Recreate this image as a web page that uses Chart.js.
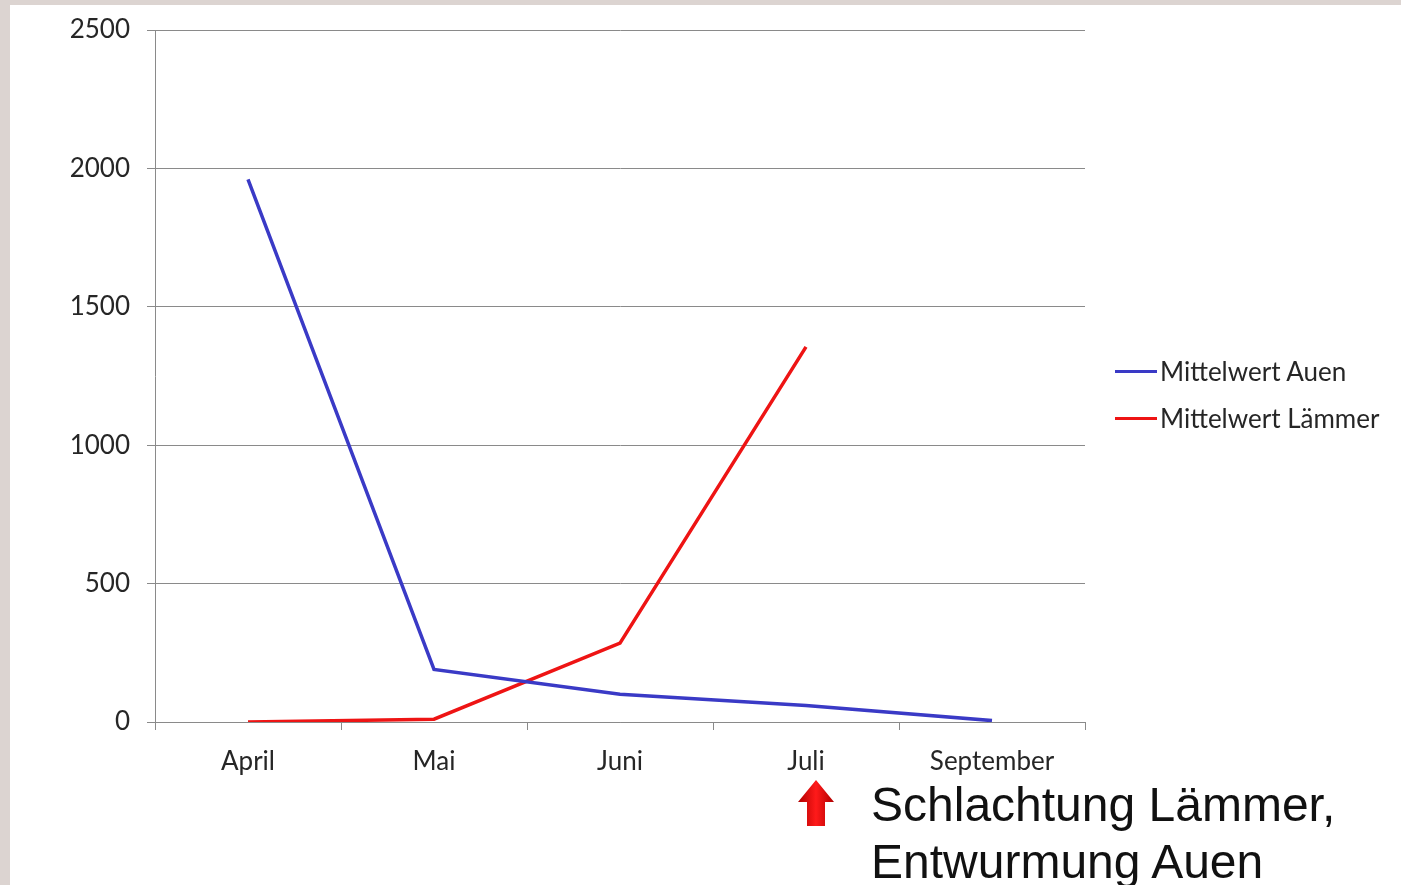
<html>
<head>
  <title>Mittelwert Auen / Lämmer</title>
  <script src="https://cdn.jsdelivr.net/npm/chart.js"></script>
  <style>
    body { margin: 0; background: #dcd4d1; width: 1401px; height: 885px; overflow: hidden; font-family: Lato, Arial; }
    #panel { position: absolute; left: 10px; top: 5px; width: 1391px; height: 880px; background: #fff; }
    #chartBox { position: absolute; left: 0; top: 0; width: 1391px; height: 790px; }
    .legend-item { position: absolute; left: 1105px; height: 30px; display: flex; align-items: center; font-size: 26px; color: #262626; }
    .legend-item .swatch { width: 42px; height: 3px; margin-right: 3px; }
    #note { position: absolute; left: 861px; top: 771px; font-family: "Liberation Sans", Arial; font-size: 48px; line-height: 57px; color: #111; }
    #arrow { position: absolute; left: 786px; top: 773px; }
  </style>
</head>
<body>
  <div id="panel">
    <div id="chartBox"><canvas id="Chart"></canvas></div>
    <div class="legend-item" style="top:351px;"><div class="swatch" style="background:#3a3ac6"></div>Mittelwert Auen</div>
    <div class="legend-item" style="top:398px;"><div class="swatch" style="background:#ee1414"></div>Mittelwert Lämmer</div>
    <svg id="arrow" width="40" height="50" viewBox="0 0 40 50">
      <defs>
        <linearGradient id="ag" x1="0" y1="0" x2="1" y2="0">
          <stop offset="0" stop-color="#b00000"/>
          <stop offset="0.5" stop-color="#ff1a1a"/>
          <stop offset="1" stop-color="#b00000"/>
        </linearGradient>
      </defs>
      <polygon points="20,2 38,24 29,24 29,48 11,48 11,24 2,24" fill="url(#ag)"/>
    </svg>
    <div id="note">Schlachtung Lämmer,<br>Entwurmung Auen</div>
  </div>

  <script>
const months = ['April', 'Mai', 'Juni', 'Juli', 'September'];
const auen = [1960, 190, 100, 60, 5];
const laemmer = [0, 10, 285, 1355, null];
const yTicks = [0, 500, 1000, 1500, 2000, 2500];

const tickFont = { family: 'Lato', size: 26 };

const config = {
  type: 'line',
  data: {
    labels: months,
    datasets: [
      { label: 'Mittelwert Auen', data: auen, borderColor: '#3a3ac6', borderWidth: 3.5, pointRadius: 0, tension: 0, fill: false },
      { label: 'Mittelwert Lämmer', data: laemmer, borderColor: '#ee1414', borderWidth: 3.5, pointRadius: 0, tension: 0, fill: false, spanGaps: false }
    ]
  },
  options: {
    responsive: true,
    maintainAspectRatio: false,
    animation: false,
    layout: { padding: { top: 25, right: 316, bottom: 0, left: 0 } },
    plugins: { legend: { display: false }, tooltip: { enabled: false } },
    scales: {
      x: {
        offset: true,
        grid: { offset: true, drawOnChartArea: false, drawTicks: true, tickLength: 8, color: '#8a8a8a' },
        border: { color: '#8a8a8a', width: 1 },
        ticks: { color: '#262626', font: tickFont, padding: 16, maxRotation: 0 },
        afterFit: s => { s.height = 73; s.paddingLeft = 0; s.paddingRight = 0; }
      },
      y: {
        min: 0, max: 2500,
        afterBuildTicks: s => { s.ticks = yTicks.map(v => ({ value: v })); },
        grid: { color: '#8a8a8a', tickLength: 8 },
        border: { color: '#8a8a8a', width: 1 },
        ticks: { color: '#262626', font: tickFont, padding: 17, callback: v => String(v) },
        afterFit: s => { s.width = 145; s.paddingTop = 0; s.paddingBottom = 0; }
      }
    }
  }
};

window.addEventListener('load', () => {
  new Chart(document.getElementById('Chart').getContext('2d'), config);
});
  </script>
</body>
</html>
